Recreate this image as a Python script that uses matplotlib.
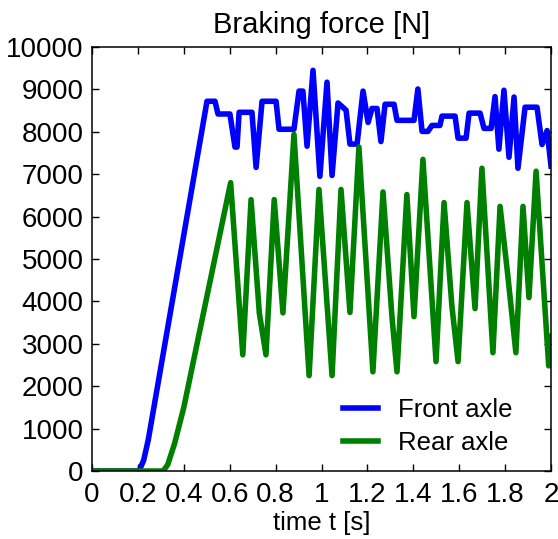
import matplotlib
matplotlib.use("Agg")
import matplotlib.pyplot as plt

# ---- data ----
front_t = [0.0, 0.205, 0.225, 0.245, 0.501, 0.536, 0.549, 0.601, 0.623, 0.632, 0.641, 0.697,
           0.715, 0.741, 0.802, 0.815, 0.880, 0.902, 0.919, 0.937, 0.963, 0.993, 1.024, 1.046,
           1.072, 1.107, 1.124, 1.155, 1.181, 1.203, 1.220, 1.242, 1.259, 1.277, 1.316, 1.329,
           1.403, 1.420, 1.438, 1.464, 1.481, 1.516, 1.525, 1.582, 1.595, 1.630, 1.643, 1.691,
           1.708, 1.739, 1.756, 1.773, 1.795, 1.817, 1.839, 1.856, 1.887, 1.939, 1.961, 1.983, 2.0]
front_f = [0, 0, 250, 730, 8720, 8720, 8420, 8420, 7640, 7640, 8460, 8460,
           7160, 8720, 8720, 8060, 8060, 8960, 8960, 7660, 9450, 6950, 9170, 6970,
           8680, 8510, 7710, 7710, 8960, 8220, 8550, 8550, 7770, 8650, 8650, 8270,
           8270, 9010, 8010, 8010, 8150, 8150, 8370, 8370, 7850, 7850, 8440, 8440,
           8080, 8080, 8830, 7590, 8980, 7400, 8820, 7140, 8580, 8580, 7700, 8030, 7190]

rear_t = [0.0, 0.31, 0.33, 0.36, 0.40, 0.604, 0.657, 0.693, 0.729, 0.758, 0.794, 0.832, 0.880,
          0.946, 0.989, 1.046, 1.085, 1.124, 1.163, 1.224, 1.268, 1.307, 1.329, 1.372, 1.403,
          1.442, 1.499, 1.534, 1.568, 1.595, 1.634, 1.669, 1.699, 1.747, 1.778, 1.812, 1.847,
          1.878, 1.904, 1.935, 1.990, 2.0]
rear_f = [0, 0, 150, 650, 1500, 6800, 2740, 6400, 3730, 2740, 6400, 3730, 7940,
          2250, 6640, 2250, 6640, 3740, 7640, 2340, 6580, 3640, 2340, 6520, 3640,
          7350, 2580, 6330, 3900, 2580, 6330, 3830, 7140, 2790, 6240, 4600, 2790,
          6240, 4090, 7070, 2480, 3170]

x_ticks = [0, 0.2, 0.4, 0.6, 0.8, 1.0, 1.2, 1.4, 1.6, 1.8, 2.0]
x_tick_labels = ["0", "0.2", "0.4", "0.6", "0.8", "1", "1.2", "1.4", "1.6", "1.8", "2"]
y_ticks = list(range(0, 10001, 1000))
series_labels = ["Front axle", "Rear axle"]
title = "Braking force [N]"
xlabel = "time t [s]"

# ---- figure ----
plt.rcParams['font.family'] = ['Liberation Sans', 'DejaVu Sans']
fig = plt.figure(figsize=(5.58, 5.39), dpi=100)
ax = fig.add_axes([92/558, 1 - 471/539, (551-92)/558, (471-47)/539])

lw = 4.0
ax.plot(front_t, front_f, color='#0000ff', lw=lw, label=series_labels[0], solid_joinstyle='round')
ax.plot(rear_t, rear_f, color='#008000', lw=lw, label=series_labels[1], solid_joinstyle='round')

ax.set_xlim(0, 2)
ax.set_ylim(0, 10000)
ax.set_xticks(x_ticks)
ax.set_xticklabels(x_tick_labels)
ax.set_yticks(y_ticks)
ax.tick_params(direction='in', top=True, right=True, length=5, width=1.0,
               labelsize=20, colors='black')
ax.tick_params(axis='x', pad=8)
ax.tick_params(axis='y', pad=6)
for s in ax.spines.values():
    s.set_linewidth(1.1)

ax.set_title(title, fontsize=21, pad=10)
ax.set_xlabel(xlabel, fontsize=18.5, labelpad=2)

leg = ax.legend(loc='center left', bbox_to_anchor=(0.547, 0.104), frameon=False,
                fontsize=18.5, handlelength=1.35, handletextpad=0.8, labelspacing=0.35,
                borderpad=0, borderaxespad=0)

fig.savefig("out.png", dpi=100)
